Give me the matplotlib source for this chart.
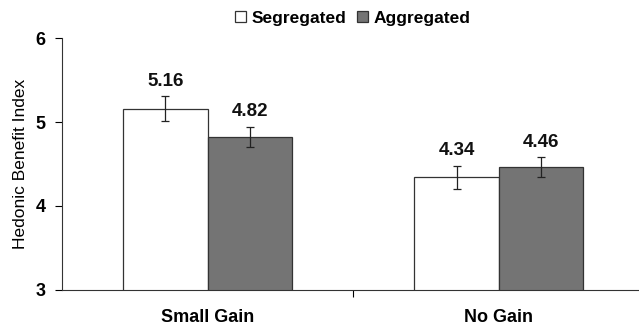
import matplotlib.pyplot as plt
import numpy as np

# data
categories = ["Small Gain", "No Gain"]
segregated = [5.16, 4.34]
aggregated = [4.82, 4.46]
seg_err = [0.145, 0.14]
agg_err = [0.12, 0.12]
series_names = ["Segregated", "Aggregated"]

plt.rcParams['font.family'] = ['Liberation Sans', 'DejaVu Sans']

fig = plt.figure(figsize=(6.39, 3.28), dpi=100)
ax = fig.add_axes([0.097, 0.116, 0.911, 0.768])

x = np.arange(len(categories))
w = 0.289
b1 = ax.bar(x - w/2, segregated, w, color='white', edgecolor='#333333',
            linewidth=0.9, label=series_names[0])
b2 = ax.bar(x + w/2, aggregated, w, color='#747474', edgecolor='#333333',
            linewidth=0.9, label=series_names[1])
ax.errorbar(x - w/2, segregated, yerr=seg_err, fmt='none', ecolor='#222222',
            elinewidth=0.9, capsize=3, capthick=0.9)
ax.errorbar(x + w/2, aggregated, yerr=agg_err, fmt='none', ecolor='#222222',
            elinewidth=0.9, capsize=3, capthick=0.9)

# value labels above the error bars
for xs, vals, errs in [(x - w/2, segregated, seg_err), (x + w/2, aggregated, agg_err)]:
    for xi, v, e in zip(xs, vals, errs):
        ax.text(xi, v + e + 0.18, f"{v:.2f}", ha='center', va='center',
                fontsize=13.5, fontweight='bold', color='#111111')

ax.set_ylim(3, 6)
ax.set_xlim(-0.5, 1.5)
ax.set_yticks([3, 4, 5, 6])
ax.set_xticks(x)
ax.set_xticklabels(categories, fontsize=13, fontweight='bold')
ax.set_xticks([0.5], minor=True)
ax.tick_params(axis='x', which='major', length=0, pad=14)
ax.tick_params(axis='x', which='minor', length=5, direction='out', width=0.8)
ax.tick_params(axis='y', length=5, width=0.8, labelsize=13, pad=7)
for lab in ax.get_yticklabels():
    lab.set_fontweight('bold')
ax.set_ylabel("Hedonic Benefit Index", fontsize=12.5, labelpad=5)

ax.spines['top'].set_visible(False)
ax.spines['right'].set_visible(False)
for s in ['left', 'bottom']:
    ax.spines[s].set_color('#333333')
    ax.spines[s].set_linewidth(0.8)

fig.legend(handles=[b1, b2], loc='center', bbox_to_anchor=(353/639, 1 - 18/328),
           ncol=2, frameon=False, handlelength=0.6, handleheight=0.6,
           handletextpad=0.35, columnspacing=0.6, prop={'weight': 'bold', 'size': 12.5})

plt.savefig("out.png", dpi=100)
